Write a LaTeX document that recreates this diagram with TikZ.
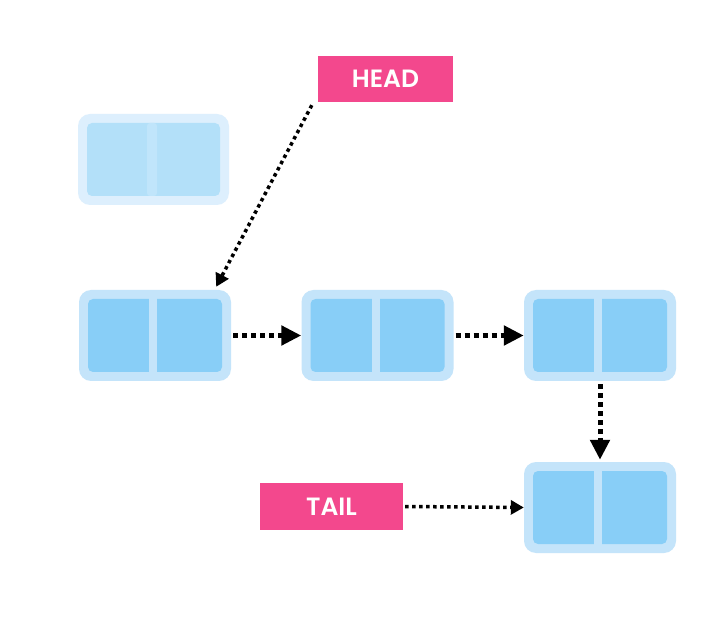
\documentclass[tikz,border=0pt]{standalone}
\usepackage{fontspec}
\setmainfont{Poppins}[BoldFont={Poppins SemiBold}]
\usetikzlibrary{arrows.meta}
\definecolor{outerc}{HTML}{C4E4FA}
\definecolor{innerc}{HTML}{88CEF7}
\definecolor{fadeouter}{HTML}{DDEFFD}
\definecolor{fadeinner}{HTML}{B3E0F9}
\definecolor{fadediv}{HTML}{C0E5FB}
\definecolor{pinkc}{HTML}{F3488D}
\tikzset{
  listnode/.style={fill=outerc, rounded corners=12pt, minimum width=152pt, minimum height=91pt, inner sep=0pt,
    path picture={
      \fill[innerc, rounded corners=5pt] ([shift={(9pt,-9pt)}]path picture bounding box.north west) rectangle ([shift={(-9pt,9pt)}]path picture bounding box.south east);
      \fill[outerc, sharp corners] ([xshift=70pt]path picture bounding box.north west) rectangle ([xshift=78pt]path picture bounding box.south west);
    }},
  fadenode/.style={fill=fadeouter, rounded corners=12pt, minimum width=151pt, minimum height=91pt, inner sep=0pt,
    path picture={
      \fill[fadeinner, rounded corners=5pt] ([shift={(9pt,-9pt)}]path picture bounding box.north west) rectangle ([shift={(-9pt,9pt)}]path picture bounding box.south east);
      \fill[fadediv, rounded corners=3pt] ([shift={(69pt,-9pt)}]path picture bounding box.north west) rectangle ([shift={(79pt,9pt)}]path picture bounding box.south west);
    }},
  label/.style={fill=pinkc, text=white, font=\fontsize{25}{30}\selectfont\bfseries, inner sep=0pt},
  bigarrow/.style={line width=5pt, dash pattern=on 5pt off 4pt, -{Triangle[length=20pt,width=19pt]}},
  smallarrow/.style={line width=3.5pt, dash pattern=on 3.5pt off 3.5pt, -{Triangle[length=13pt,width=14pt]}}
}
\begin{document}
\begin{tikzpicture}[x=1pt,y=-1pt]
\useasboundingbox (0,0) rectangle (726,636);
\fill[white] (0,0) rectangle (726,636);
\node[fadenode] (f) at (153.5,159.5) {};
\node[listnode] (n1) at (155,335.5) {};
\node[listnode] (n2) at (377.5,335.5) {};
\node[listnode] (n3) at (600,335.5) {};
\node[listnode] (n4) at (600,507.5) {};
\node[label, minimum width=135pt, minimum height=46pt] (head) at (385.5,79) {HEAD};
\node[label, minimum width=143pt, minimum height=47pt] (tail) at (331.5,506.5) {TAIL};
\draw[bigarrow] ([xshift=2pt]n1.east) -- (n2.west);
\draw[bigarrow] ([xshift=2pt]n2.east) -- (n3.west);
\draw[bigarrow] ([yshift=-3pt]n3.south) -- ([yshift=2pt]n4.north);
\draw[smallarrow] ([shift={(-6pt,-3pt)}]head.south west) -- ([shift={(-15pt,3pt)}]n1.north east);
\draw[smallarrow] ([xshift=2pt]tail.east) -- (n4.west);
\end{tikzpicture}
\end{document}
